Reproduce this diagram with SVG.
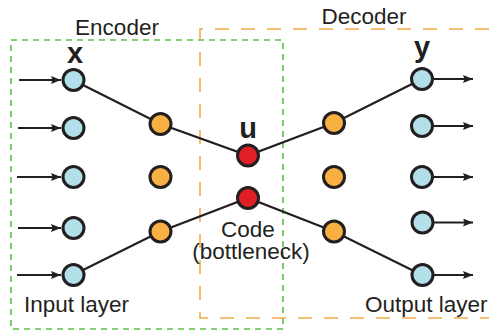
<svg xmlns="http://www.w3.org/2000/svg" width="489" height="331" viewBox="0 0 489 331">
<defs>
<style>
.lbl{font-family:"Liberation Sans",Arial,sans-serif;font-size:22.5px;fill:#231f20}
.var{font-family:"Liberation Sans",Arial,sans-serif;font-size:29px;font-weight:bold;fill:#231f20;text-anchor:middle}
.in{fill:#b3e0e8;stroke:#231f20;stroke-width:3}
.hid{fill:#f9b042;stroke:#231f20;stroke-width:3}
.code{fill:#e21e26;stroke:#231f20;stroke-width:3}
.edge{stroke:#231f20;stroke-width:2.2;fill:none}
.arr{stroke:#231f20;stroke-width:2;fill:none;marker-end:url(#ah)}
</style>
<marker id="ah" viewBox="0 0 10 8" refX="10" refY="4" markerWidth="10" markerHeight="8" markerUnits="userSpaceOnUse" orient="auto">
<path d="M0,0 L10,4 L0,8 L1.5,4 Z" fill="#231f20"/>
</marker>
</defs>
<rect width="489" height="331" fill="#ffffff"/>
<g id="encoder-box">
<rect x="11" y="40" width="272" height="289" fill="none" stroke="#5bbf4b" stroke-width="1.6" stroke-dasharray="6,5"/>
<text class="lbl" x="117" y="35" text-anchor="middle">Encoder</text>
</g>
<g id="decoder-box">
<path d="M489,29 H200 V318 H489" fill="none" stroke="#f5a94a" stroke-width="1.6" stroke-dasharray="14,12"/>
<text class="lbl" x="364" y="24" text-anchor="middle">Decoder</text>
</g>
<g id="connectors">
<polyline class="edge" points="73,80 160.5,124 248,155.5 334,123 422,79"/>
<polyline class="edge" points="73,275 160.5,231.5 248,198 334,231.5 422,275"/>
<line class="arr" x1="19" y1="80" x2="61" y2="80"/>
<line class="arr" x1="18" y1="128" x2="61" y2="128"/>
<line class="arr" x1="17" y1="177" x2="61" y2="177"/>
<line class="arr" x1="18" y1="228" x2="61" y2="228"/>
<line class="arr" x1="17" y1="275" x2="61" y2="275"/>
<line class="arr" x1="434" y1="79" x2="473" y2="79"/>
<line class="arr" x1="434" y1="126" x2="473" y2="126"/>
<line class="arr" x1="434" y1="177" x2="473" y2="177"/>
<line class="arr" x1="434" y1="222.5" x2="473" y2="222.5"/>
<line class="arr" x1="434" y1="275" x2="473" y2="275"/>
</g>
<g id="input-layer">
<circle class="in" cx="73.5" cy="80" r="10.5"/>
<circle class="in" cx="73.5" cy="128" r="10.5"/>
<circle class="in" cx="73.5" cy="177" r="10.5"/>
<circle class="in" cx="73.5" cy="228" r="10.5"/>
<circle class="in" cx="73.5" cy="275" r="10.5"/>
<text class="var" x="75" y="63">x</text>
<text class="lbl" x="24" y="311.5">Input layer</text>
</g>
<g id="encoder-hidden">
<circle class="hid" cx="160.5" cy="124" r="10.5"/>
<circle class="hid" cx="160.5" cy="177" r="10.5"/>
<circle class="hid" cx="160.5" cy="231.5" r="10.5"/>
</g>
<g id="code">
<circle class="code" cx="248" cy="155.5" r="10.5"/>
<circle class="code" cx="248" cy="198" r="10.5"/>
<text class="var" x="248" y="138">u</text>
<text class="lbl" x="248" y="236.5" text-anchor="middle">Code</text>
<text class="lbl" x="251" y="259" text-anchor="middle">(bottleneck)</text>
</g>
<g id="decoder-hidden">
<circle class="hid" cx="334" cy="123" r="10.5"/>
<circle class="hid" cx="334" cy="177" r="10.5"/>
<circle class="hid" cx="334" cy="231.5" r="10.5"/>
</g>
<g id="output-layer">
<circle class="in" cx="422" cy="79" r="10.5"/>
<circle class="in" cx="422" cy="126" r="10.5"/>
<circle class="in" cx="422" cy="177" r="10.5"/>
<circle class="in" cx="422.5" cy="222.5" r="10.5"/>
<circle class="in" cx="422.5" cy="275" r="10.5"/>
<text class="var" x="422" y="57">y</text>
<text class="lbl" x="365" y="311.5">Output layer</text>
</g>
</svg>
